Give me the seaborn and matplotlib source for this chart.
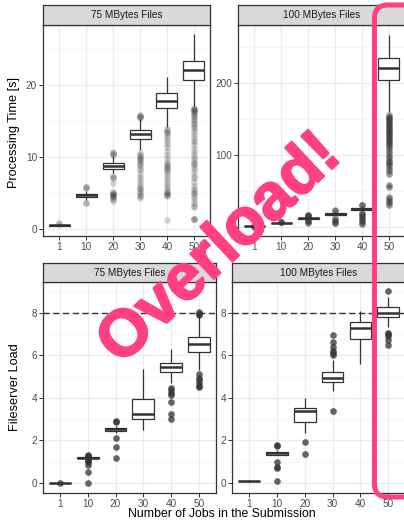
import pandas as pd
import seaborn as sns
import matplotlib.pyplot as plt
import matplotlib.patheffects as pe
from matplotlib.patches import FancyBboxPatch

# categorias del eje x
jobs = ["1", "10", "20", "30", "40", "50"]

# resumen de cinco numeros por caja: bigote inf, Q1, mediana, Q3, bigote sup
# arriba izquierda: 75 MB, tiempo de proceso [s]
tl_lo = [0.35, 4.0, 7.7, 11.0, 14.2, 17.0]
tl_q1 = [0.45, 4.4, 8.3, 12.5, 16.8, 20.7]
tl_med = [0.5, 4.65, 8.75, 13.1, 17.7, 22.1]
tl_q3 = [0.55, 4.9, 9.1, 13.7, 18.8, 23.3]
tl_hi = [0.65, 5.3, 10.1, 15.3, 21.1, 27.0]
tl_out = {
    "1": [0.75, 0.7],
    "10": [5.8, 5.75, 5.7, 3.6, 3.55],
    "20": [10.6, 10.5, 10.4, 10.3, 7.4, 7.2, 7.1, 6.4, 5.1, 5.0, 4.9, 4.8, 4.7,
           4.6, 4.5, 4.3, 4.1, 3.9],
    "30": [15.8, 15.7, 15.6, 15.5, 15.4, 10.5, 10.3, 10.1, 9.9, 9.7, 9.5, 9.3,
           9.0, 8.8, 8.5, 8.2, 7.6, 7.2, 6.8, 6.3, 5.9, 5.7, 5.5, 5.3, 5.0,
           4.7, 4.5, 4.3],
    "40": [13.9, 13.7, 13.5, 13.3, 13.0, 12.6, 12.2, 11.8, 11.3, 10.8, 10.3,
           9.8, 9.3, 9.0, 8.8, 8.6, 8.4, 8.2, 8.0, 7.6, 7.2, 6.8, 6.4, 6.0,
           5.6, 5.3, 5.1, 4.9, 4.8, 4.7, 4.5, 1.2],
    "50": [16.8, 16.7, 16.6, 16.5, 16.4, 16.3, 16.1, 15.9, 15.7, 15.5, 15.2,
           15.0, 14.7, 14.5, 14.2, 14.0, 13.6, 13.2, 12.8, 12.4, 12.0, 11.6,
           11.1, 10.6, 10.2, 9.8, 9.5, 9.2, 9.0, 8.7, 8.3, 7.9, 7.4, 7.0, 6.5,
           6.0, 5.5, 5.2, 5.0, 4.8, 4.4, 4.0, 3.6, 3.2, 3.0, 1.3, 1.3, 1.3],
}

# arriba derecha: 100 MB, tiempo de proceso [s]
tr_lo = [0.5, 4.5, 10.0, 16.0, 22.0, 160.0]
tr_q1 = [0.8, 5.3, 11.0, 17.0, 23.0, 204.0]
tr_med = [1.0, 5.7, 12.0, 18.0, 24.5, 220.0]
tr_q3 = [1.2, 6.1, 13.0, 19.0, 26.0, 234.0]
tr_hi = [1.6, 7.0, 14.0, 20.5, 29.0, 266.0]
tr_out = {
    "1": [1.8, 1.5, 0.3],
    "10": [7.5, 7.0, 6.5],
    "20": [17.0, 16.0, 15.5, 15.0, 9.0, 8.0, 7.0, 6.0],
    "30": [23.0, 22.0, 12.0, 10.0, 8.0, 6.0, 5.0],
    "40": [31.0, 30.0, 20.0, 18.0, 16.0, 14.0, 12.0, 10.0, 8.0, 6.0, 4.0],
    "50": [155, 153, 151, 149, 147, 145, 143, 141, 139, 137, 135, 133, 131,
           129, 127, 125, 123, 121, 119, 117, 115, 112, 110, 106, 102, 98, 95,
           92, 90, 87, 84, 80, 77, 73, 58, 55, 42, 39, 36, 33, 30],
}

# abajo izquierda: 75 MB, carga del fileserver
bl_lo = [0.0, 1.14, 2.35, 2.5, 4.69, 5.31]
bl_q1 = [0.0, 1.17, 2.45, 3.0, 5.19, 6.17]
bl_med = [0.0, 1.19, 2.52, 3.25, 5.44, 6.53]
bl_q3 = [0.0, 1.21, 2.6, 3.95, 5.65, 6.84]
bl_hi = [0.01, 1.24, 2.7, 5.36, 6.28, 7.84]
bl_out = {
    "1": [0.02],
    "10": [1.3, 1.28, 1.26, 1.1, 1.05, 1.0, 0.85, 0.5, 0.0],
    "20": [2.9, 2.85, 2.1, 1.7, 1.2],
    "30": [],
    "40": [4.45, 4.35, 4.25, 4.15, 3.8, 3.25, 3.0],
    "50": [8.02, 7.95, 7.9, 5.12, 4.95, 4.85, 4.7, 4.55, 4.5],
}

# abajo derecha: 100 MB, carga del fileserver
br_lo = [0.05, 1.3, 2.34, 4.3, 5.59, 7.31]
br_q1 = [0.08, 1.33, 2.89, 4.72, 6.75, 7.77]
br_med = [0.1, 1.4, 3.36, 4.95, 7.27, 8.0]
br_q3 = [0.12, 1.48, 3.52, 5.2, 7.55, 8.25]
br_hi = [0.15, 1.55, 3.98, 5.78, 8.08, 8.75]
br_out = {
    "1": [],
    "10": [1.8, 1.75, 1.0, 0.75, 0.7, 0.12],
    "20": [1.95, 1.35],
    "30": [6.95, 6.6, 6.4, 6.2, 6.1, 6.0, 3.4],
    "40": [],
    "50": [9.0, 7.03, 7.0, 6.9, 6.7, 6.5],
}

strip_labels = ["75 MBytes Files", "100 MBytes Files"]
load_limit = 8

sns.set_theme(style="white")
plt.rcParams['font.family'] = ['Liberation Sans', 'DejaVu Sans']

W, H = 404, 521
fig = plt.figure(figsize=(W / 100, H / 100), dpi=100)


def px_axes(x0, y0, x1, y1):
    return fig.add_axes([x0 / W, 1 - y1 / H, (x1 - x0) / W, (y1 - y0) / H])


def panel(box, outl, alpha_out, ylim, yticks, yminor, strip_box, title, hline=None):
    lo, q1, med, q3, hi = outl[0]
    out = outl[1]
    ax = px_axes(*box)
    # tabla larga con los cinco valores de cada caja
    rows = []
    for i, j in enumerate(jobs):
        for v in (lo[i], q1[i], med[i], q3[i], hi[i]):
            rows.append((j, v))
    df = pd.DataFrame(rows, columns=["jobs", "valor"])
    orows = [(j, v) for j in jobs for v in out[j]]
    dfo = pd.DataFrame(orows, columns=["jobs", "valor"])

    ax.set_axisbelow(True)
    if hline is not None:
        ax.axhline(hline, color="#333333", lw=1.0, ls=(0, (4.5, 2.5)), zorder=0.8)
    sns.boxplot(data=df, x="jobs", y="valor", order=jobs, color="white",
                linecolor="#333333", linewidth=0.9, width=0.78, whis=(0, 100),
                showfliers=False, medianprops={"linewidth": 1.8},
                capprops={"visible": False}, ax=ax)
    sns.stripplot(data=dfo, x="jobs", y="valor", order=jobs, jitter=False,
                  color="#333333", alpha=alpha_out, size=4.8, linewidth=0,
                  ax=ax, zorder=3)
    ax.set_xlim(-0.6, 5.6)
    ax.set_ylim(*ylim)
    ax.set_yticks(yticks)
    ax.set_yticks(yminor, minor=True)
    ax.set_xlabel("")
    ax.set_ylabel("")
    ax.grid(True, which="major", color="#EBEBEB", lw=0.9)
    ax.yaxis.grid(True, which="minor", color="#F2F2F2", lw=0.5)
    ax.tick_params(which="major", direction="out", length=3, width=0.7,
                   color="#333333", labelcolor="#4D4D4D", labelsize=7.2, pad=1.5,
                   left=True, bottom=True)
    ax.tick_params(which="minor", length=0)
    for s in ax.spines.values():
        s.set_color("#333333")
        s.set_linewidth(0.9)
    # barra del facet
    st = px_axes(*strip_box)
    st.set_facecolor("#D9D9D9")
    st.set_xticks([])
    st.set_yticks([])
    for s in st.spines.values():
        s.set_color("#333333")
        s.set_linewidth(0.9)
    st.text(0.5, 0.5, title, ha="center", va="center", fontsize=7.2,
            color="#1A1A1A", transform=st.transAxes)
    return ax


panel((43.3, 25, 210, 236), ((tl_lo, tl_q1, tl_med, tl_q3, tl_hi), tl_out), 0.2,
      (-1.0, 28.3), [0, 10, 20], [5, 15, 25], (43.3, 5, 210, 25), strip_labels[0])
panel((238.3, 25, 405, 236), ((tr_lo, tr_q1, tr_med, tr_q3, tr_hi), tr_out), 0.45,
      (-12.5, 280), [0, 100, 200], [50, 150, 250], (238.3, 5, 405, 25), strip_labels[1])
panel((43.3, 282.3, 215.5, 492.7), ((bl_lo, bl_q1, bl_med, bl_q3, bl_hi), bl_out), 0.75,
      (-0.45, 9.42), [0, 2, 4, 6, 8], [1, 3, 5, 7, 9], (43.3, 263.3, 215.5, 282.3),
      strip_labels[0], hline=load_limit)
panel((232.3, 282.3, 405, 492.7), ((br_lo, br_q1, br_med, br_q3, br_hi), br_out), 0.75,
      (-0.45, 9.42), [0, 2, 4, 6, 8], [1, 3, 5, 7, 9], (232.3, 263.3, 405, 282.3),
      strip_labels[1], hline=load_limit)

fig.text(14 / W, 1 - 133 / H, "Processing Time [s]", rotation=90, ha="center",
         va="center", fontsize=9.2, color="black")
fig.text(15 / W, 1 - 387 / H, "Fileserver Load", rotation=90, ha="center",
         va="center", fontsize=9.2, color="black")
fig.text(222 / W, 1 - 514 / H, "Number of Jobs in the Submission", ha="center",
         va="center", fontsize=8.8, color="black")

# anotacion: rectangulo redondeado y texto "Overload!"
rosa = "#FF4081"
rect = FancyBboxPatch((3.745, 0.24), 0.45, 4.92,
                      boxstyle="round,pad=0,rounding_size=0.13",
                      transform=fig.dpi_scale_trans, fill=False,
                      edgecolor=rosa, linewidth=3.6, zorder=10)
fig.patches.append(rect)
fig.text(220 / W, 1 - 250 / H, "Overload!", rotation=43, ha="center",
         va="center", rotation_mode="anchor", fontsize=47, fontweight="bold",
         color=rosa, zorder=11,
         path_effects=[pe.withStroke(linewidth=1.5, foreground=rosa)])

plt.savefig("out.png", dpi=100)
